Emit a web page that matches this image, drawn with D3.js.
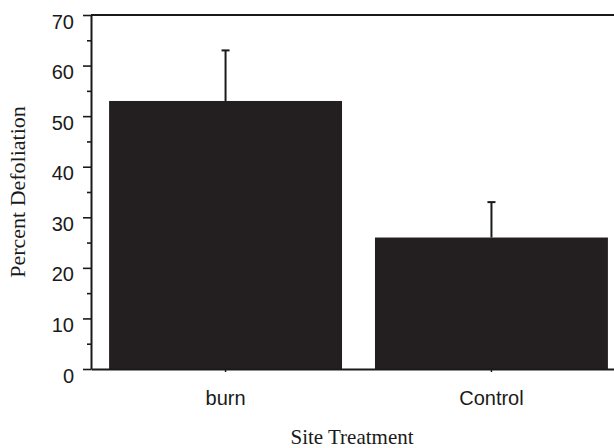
<!DOCTYPE html>
<html>
<head>
<meta charset="utf-8">
<script src="https://cdn.jsdelivr.net/npm/d3@7"></script>
<style>
  html, body { margin: 0; padding: 0; background: #fff; }
  svg { display: block; }
</style>
</head>
<body>
<div id="chart"></div>
<script>
// Mean percent defoliation by site treatment, with upper error bars
const categories = ["burn", "Control"];
const meanValues = [53, 26];
const errorValues = [10, 7];
const yTickValues = [0, 10, 20, 30, 40, 50, 60, 70];
const yMinorTickValues = [5, 15, 25, 35, 45, 55, 65];

const width = 614, height = 448;
const plot = { left: 91, top: 15, right: 626, bottom: 369 };
const ink = "#1b1a1a";
const barFill = "#231f20";
const sans = "'Liberation Sans', Arial, sans-serif";
const serif = "'Liberation Serif', 'Times New Roman', serif";

const svg = d3.select("#chart").append("svg")
  .attr("width", width).attr("height", height);

const x = d3.scaleBand()
  .domain(categories)
  .range([plot.left, plot.right])
  .paddingInner(0.124)
  .paddingOuter(0.068);

const y = d3.scaleLinear()
  .domain([0, 70])
  .range([plot.bottom, plot.top]);

// Frame top edge
svg.append("line")
  .attr("x1", plot.left).attr("x2", plot.right)
  .attr("y1", plot.top).attr("y2", plot.top)
  .attr("stroke", ink).attr("stroke-width", 2);

// Bars
svg.append("g").selectAll("rect")
  .data(categories)
  .join("rect")
  .attr("x", d => x(d))
  .attr("y", (d, i) => y(meanValues[i]))
  .attr("width", x.bandwidth())
  .attr("height", (d, i) => y(0) - y(meanValues[i]))
  .attr("fill", barFill);

// Upper error bars
const err = svg.append("g").attr("stroke", ink).attr("stroke-width", 2);
categories.forEach((c, i) => {
  const cx = x(c) + x.bandwidth() / 2;
  err.append("line")
    .attr("x1", cx).attr("x2", cx)
    .attr("y1", y(meanValues[i])).attr("y2", y(meanValues[i] + errorValues[i]));
  err.append("line")
    .attr("x1", cx - 4).attr("x2", cx + 4)
    .attr("y1", y(meanValues[i] + errorValues[i])).attr("y2", y(meanValues[i] + errorValues[i]));
});

// Y axis: major ticks with labels
const yAxis = svg.append("g")
  .attr("transform", `translate(${plot.left},0)`)
  .call(d3.axisLeft(y).tickValues(yTickValues).tickSize(8).tickPadding(9).tickSizeOuter(0));
yAxis.select(".domain").attr("stroke", ink).attr("stroke-width", 2);
yAxis.selectAll(".tick line").attr("stroke", ink).attr("stroke-width", 1.6);
yAxis.selectAll(".tick text")
  .attr("fill", ink)
  .attr("dy", "0.65em")
  .style("font-family", sans)
  .style("font-size", "20px");

// Y axis: minor ticks
svg.append("g")
  .attr("transform", `translate(${plot.left},0)`)
  .call(d3.axisLeft(y).tickValues(yMinorTickValues).tickSize(4).tickFormat(""))
  .call(g => g.select(".domain").remove())
  .selectAll(".tick line").attr("stroke", ink).attr("stroke-width", 1.6);

// X axis
const xAxis = svg.append("g")
  .attr("transform", `translate(0,${plot.bottom})`)
  .call(d3.axisBottom(x).tickSize(3).tickPadding(19).tickSizeOuter(0));
xAxis.select(".domain").attr("stroke", ink).attr("stroke-width", 2);
xAxis.selectAll(".tick line").attr("stroke", ink).attr("stroke-width", 1.5);
xAxis.selectAll(".tick text")
  .attr("fill", ink)
  .style("font-family", sans)
  .style("font-size", "20px");

// Axis titles
svg.append("text")
  .attr("x", 352).attr("y", 444)
  .attr("text-anchor", "middle")
  .attr("fill", ink)
  .style("font-family", serif)
  .style("font-size", "21px")
  .text("Site Treatment");

svg.append("text")
  .attr("transform", `translate(25,${(plot.top + plot.bottom) / 2}) rotate(-90)`)
  .attr("text-anchor", "middle")
  .attr("fill", ink)
  .style("font-family", serif)
  .style("font-size", "22px")
  .text("Percent Defoliation");
</script>
</body>
</html>
